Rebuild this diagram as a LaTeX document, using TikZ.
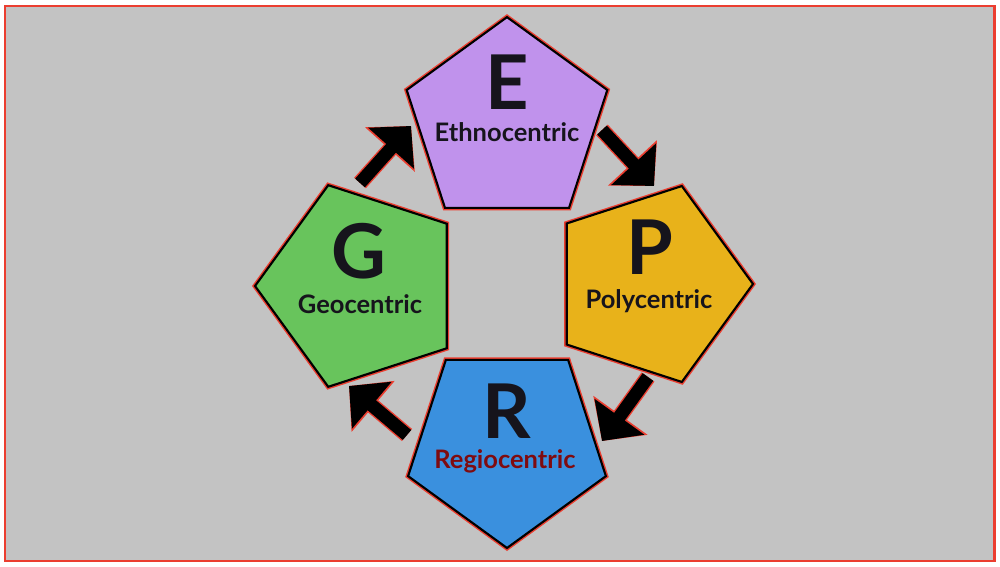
\documentclass[tikz,border=0pt]{standalone}
\usepackage{fontspec}
\setmainfont{Lato}
\usetikzlibrary{shapes.geometric,arrows.meta}

\definecolor{bggray}{RGB}{195,195,195}
\definecolor{halo}{RGB}{235,62,48}
\definecolor{ethno}{RGB}{192,146,236}
\definecolor{geo}{RGB}{104,196,92}
\definecolor{poly}{RGB}{232,178,26}
\definecolor{regio}{RGB}{58,144,222}
\definecolor{ink}{RGB}{22,20,28}

\tikzset{
  penta/.style={regular polygon, regular polygon sides=5, draw=black,
    line width=1.2pt, preaction={draw=halo, line width=2.8pt}},
  letter/.style={anchor=base, inner sep=0pt, text=ink, font=\fontsize{43}{43}\selectfont\bfseries},
  word/.style={anchor=base, inner sep=0pt, text=ink, font=\fontsize{14.5}{14.5}\selectfont\bfseries},
  bigarrow/.style={line width=7.4pt, -{Triangle[length=17pt,width=34pt]},
    preaction={draw=halo, line width=9pt, -{Triangle[length=18pt,width=37pt]}}}
}

\begin{document}
\begin{tikzpicture}[x=0.02cm,y=-0.02cm]
\useasboundingbox (0,0) rectangle (1000,567);
\draw[halo, fill=bggray, line width=1.7pt] (5,6) rectangle (994,561);

% the four pentagons
\node[penta, fill=ethno, minimum size=4.22cm] (e) at (507,122.6) {};
\node[penta, fill=geo, shape border rotate=90, minimum size=4.24cm] (g) at (361,286) {};
\node[penta, fill=poly, shape border rotate=-90, minimum size=4.12cm] (p) at (650,284) {};
\node[penta, fill=regio, shape border rotate=180, minimum size=4.16cm] (r) at (507,444) {};

% labels
\node[letter] (eletter) at (507,110) {E};
\node[word] (eword) at (507,142) {Ethnocentric};
\node[letter] (gletter) at (359,279) {G};
\node[word] (gword) at (360,314) {Geocentric};
\node[letter] (pletter) at (650,275) {P};
\node[word] (pword) at (649,309) {Polycentric};
\node[letter] (rletter) at (507,438) {R};
\node[word, text=ink!55!red] (rword) at (505,468) {Regiocentric};

% arrows round the cycle
\coordinate (ge0) at (360,183);
\coordinate (ge1) at (411,126);
\coordinate (ep0) at (602,130);
\coordinate (ep1) at (654,186);
\coordinate (pr0) at (648,377);
\coordinate (pr1) at (602,441);
\coordinate (rg0) at (407,435);
\coordinate (rg1) at (349,386);
\draw[bigarrow] (ge0) -- (ge1);
\draw[bigarrow] (ep0) -- (ep1);
\draw[bigarrow] (pr0) -- (pr1);
\draw[bigarrow] (rg0) -- (rg1);
\end{tikzpicture}
\end{document}
